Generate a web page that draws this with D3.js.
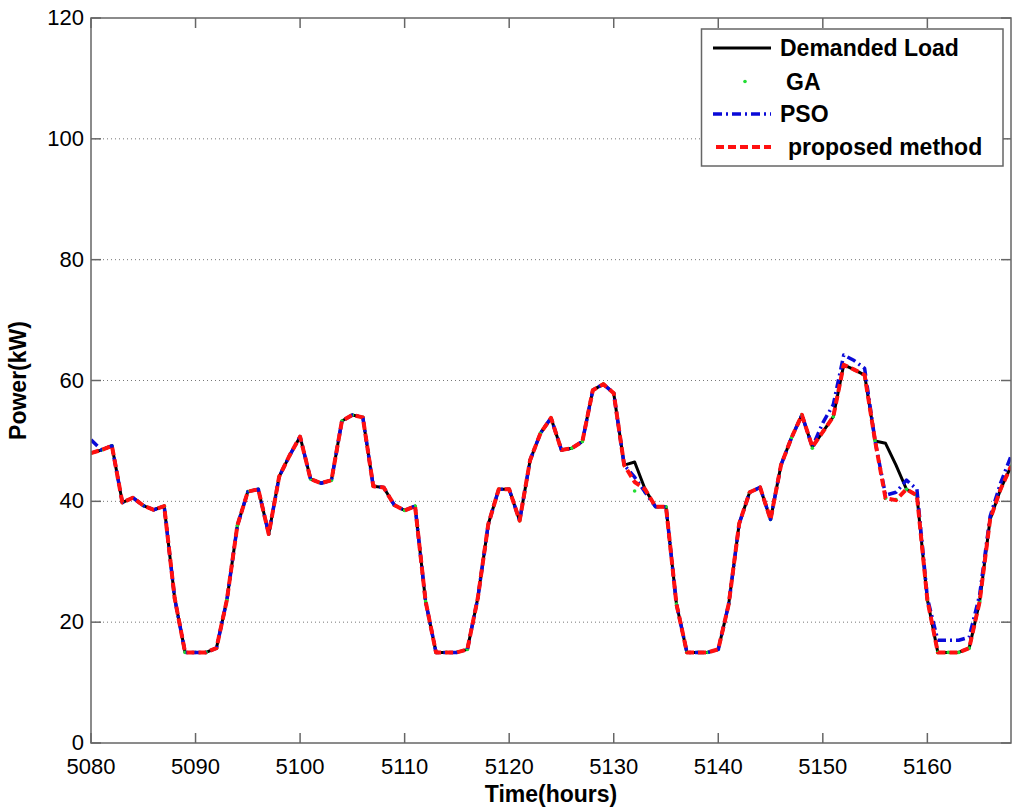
<!DOCTYPE html>
<html><head><meta charset="utf-8">
<script src="https://cdn.jsdelivr.net/npm/d3@7"></script>
<style>body{margin:0;background:#fff}svg{display:block}</style>
</head><body>
<svg id="c" width="1024" height="810"></svg>
<script>
const hours = [5080,5081,5082,5083,5084,5085,5086,5087,5088,5089,5090,5091,5092,5093,5094,5095,5096,5097,5098,5099,
5100,5101,5102,5103,5104,5105,5106,5107,5108,5109,5110,5111,5112,5113,5114,5115,5116,5117,5118,5119,
5120,5121,5122,5123,5124,5125,5126,5127,5128,5129,5130,5131,5132,5133,5134,5135,5136,5137,5138,5139,
5140,5141,5142,5143,5144,5145,5146,5147,5148,5149,5150,5151,5152,5153,5154,5155,5156,5157,5158,5159,
5160,5161,5162,5163,5164,5165,5166,5167,5168];
const demand = [48,48.5,49.2,39.8,40.6,39.3,38.6,39.2,24,15,15,15,15.7,23.7,36,41.6,42,34.6,44.1,47.6,
50.7,43.7,43,43.5,53.3,54.3,53.9,42.5,42.3,39.4,38.5,39.2,23.5,15,15,15,15.5,24,36.2,42,
42,36.8,46.8,51.3,53.8,48.5,48.8,49.9,58.4,59.4,57.9,46,46.5,42,39.1,39.1,23,15,15,15,
15.5,23,36.3,41.5,42.3,37,46,50.5,54.3,49,51.5,54,62.6,61.8,60.9,50,49.6,46,42,41,
23.7,15,15,15,15.7,23.4,37,42,45.8];
const ga = [48,48.5,49.2,39.8,40.6,39.3,38.6,39.2,24,15,15,15,15.7,23.7,36,41.6,42,34.6,44.1,47.6,
50.7,43.7,43,43.5,53.3,54.3,53.9,42.5,42.3,39.4,38.5,39.2,23.5,15,15,15,15.5,24,36.2,42,
42,36.8,46.8,51.3,53.8,48.5,48.8,49.9,58.4,59.4,57.9,46,41.7,41.5,39.1,39.1,23,15,15,15,
15.5,23,36.3,41.5,42.3,37,46,50.5,54.3,48.8,51.5,54,62.5,61.8,60.9,50,40.5,40.3,42,41,
23.7,15,15,15,15.7,23.4,37,42,45.8];
const pso = [50.2,48.5,49.2,39.8,40.6,39.3,38.6,39.2,24,15,15,15,15.7,23.7,36,41.6,42,34.6,44.1,47.6,
50.7,43.7,43,43.5,53.3,54.3,53.9,42.5,42.3,39.4,38.5,39.2,23.5,15,15,15,15.5,24,36.2,42,
42,36.8,46.8,51.3,53.8,48.5,48.8,49.9,58.4,59.4,57.9,46,44,41.5,39.1,39.1,23,15,15,15,
15.5,23,36.3,41.5,42.3,37,46,50.5,54.3,49,53,56,64.2,63.3,62,50,41,41.5,43.5,42,
24,17,17,17,17.5,24.5,37.5,43,47.5];
const proposed = [48,48.5,49.2,39.8,40.6,39.3,38.6,39.2,24,15,15,15,15.7,23.7,36,41.6,42,34.6,44.1,47.6,
50.7,43.7,43,43.5,53.3,54.3,53.9,42.5,42.3,39.4,38.5,39.2,23.5,15,15,15,15.5,24,36.2,42,
42,36.8,46.8,51.3,53.8,48.5,48.8,49.9,58.4,59.4,57.9,46,43.2,42,39.1,39.1,23,15,15,15,
15.5,23,36.3,41.5,42.3,37,46,50.5,54.3,49,51.5,54,62.6,61.8,60.9,50,40.5,40.2,42,41,
23.7,15,15,15,15.7,23.4,37,42,45.8];
const xTicks = [5080,5090,5100,5110,5120,5130,5140,5150,5160];
const yTicks = [0,20,40,60,80,100,120];
const legendLabels = ["Demanded Load","GA","PSO","proposed method"];

const svg = d3.select("#c");
const L=91,R=1011,T=18,B=743;
const x = d3.scaleLinear().domain([5080,5168]).range([L,R]);
const y = d3.scaleLinear().domain([0,120]).range([B,T]);

// grid
svg.append("g").selectAll("line").data(yTicks.filter(v=>v>0&&v<120)).join("line")
  .attr("x1",L).attr("x2",R).attr("y1",d=>y(d)).attr("y2",d=>y(d))
  .attr("stroke","#777").attr("stroke-width",1).attr("stroke-dasharray","1,3");

svg.append("defs").append("clipPath").attr("id","pc").append("rect")
  .attr("x",L).attr("y",T).attr("width",R-L).attr("height",B-T);
const plot = svg.append("g").attr("clip-path","url(#pc)");
const line = (arr)=>d3.line().x((d,i)=>x(hours[i])).y(d=>y(d))(arr);

plot.append("path").attr("d",line(demand)).attr("fill","none").attr("stroke","#000").attr("stroke-width",3)
  .attr("stroke-linejoin","round");
plot.append("g").selectAll("circle").data(ga).join("circle")
  .attr("cx",(d,i)=>x(hours[i])).attr("cy",d=>y(d)).attr("r",1.8).attr("fill","#22dd33");
plot.append("path").attr("d",line(pso)).attr("fill","none").attr("stroke","#0a0ad8").attr("stroke-width",3.5)
  .attr("stroke-dasharray","9,4,2,4").attr("stroke-linejoin","round");
plot.append("path").attr("d",line(proposed)).attr("fill","none").attr("stroke","#ff1010").attr("stroke-width",4)
  .attr("stroke-dasharray","8,4").attr("stroke-linejoin","round");

// axes box
const axG = svg.append("g").attr("stroke","#666").attr("stroke-width",1.5);
axG.append("rect").attr("x",L).attr("y",T).attr("width",R-L).attr("height",B-T).attr("fill","none");
xTicks.forEach(t=>{
  axG.append("line").attr("x1",x(t)).attr("x2",x(t)).attr("y1",B).attr("y2",B-10);
  axG.append("line").attr("x1",x(t)).attr("x2",x(t)).attr("y1",T).attr("y2",T+10);
});
yTicks.forEach(t=>{
  axG.append("line").attr("x1",L).attr("x2",L+10).attr("y1",y(t)).attr("y2",y(t));
  axG.append("line").attr("x1",R).attr("x2",R-10).attr("y1",y(t)).attr("y2",y(t));
});

const font = "'Liberation Sans', Arial, sans-serif";
svg.append("g").selectAll("text").data(xTicks).join("text")
  .attr("x",d=>x(d)).attr("y",774).attr("text-anchor","middle")
  .attr("font-family",font).attr("font-size",22).attr("fill","#000").text(d=>d);
svg.append("g").selectAll("text").data(yTicks).join("text")
  .attr("x",84).attr("y",d=>y(d)+7).attr("text-anchor","end")
  .attr("font-family",font).attr("font-size",22).attr("fill","#000").text(d=>d);

svg.append("text").attr("x",(L+R)/2).attr("y",802).attr("text-anchor","middle")
  .attr("font-family",font).attr("font-size",23).attr("font-weight","bold").text("Time(hours)");
svg.append("text").attr("transform",`translate(26,${(T+B)/2}) rotate(-90)`).attr("text-anchor","middle")
  .attr("font-family",font).attr("font-size",23).attr("font-weight","bold").text("Power(kW)");

// legend
const lg = svg.append("g");
lg.append("rect").attr("x",701.5).attr("y",29).attr("width",301.5).attr("height",137)
  .attr("fill","#fff").attr("stroke","#666").attr("stroke-width",1.5);
const rowsY=[48,81.5,114,147];
const textX=[780,786,780,788];
lg.append("line").attr("x1",713).attr("x2",771).attr("y1",rowsY[0]).attr("y2",rowsY[0]).attr("stroke","#000").attr("stroke-width",3);
lg.append("circle").attr("cx",745).attr("cy",rowsY[1]).attr("r",1.8).attr("fill","#22dd33");
lg.append("line").attr("x1",713).attr("x2",771).attr("y1",rowsY[2]).attr("y2",rowsY[2]).attr("stroke","#0a0ad8").attr("stroke-width",3.5).attr("stroke-dasharray","9,4,2,4");
lg.append("line").attr("x1",716).attr("x2",771).attr("y1",rowsY[3]).attr("y2",rowsY[3]).attr("stroke","#ff1010").attr("stroke-width",4).attr("stroke-dasharray","8,4");
lg.selectAll("text.l").data(legendLabels).join("text").attr("class","l")
  .attr("x",(d,i)=>textX[i]).attr("y",(d,i)=>rowsY[i]+8)
  .attr("font-family",font).attr("font-size",23).attr("font-weight","bold").text(d=>d);
</script>
</body></html>
